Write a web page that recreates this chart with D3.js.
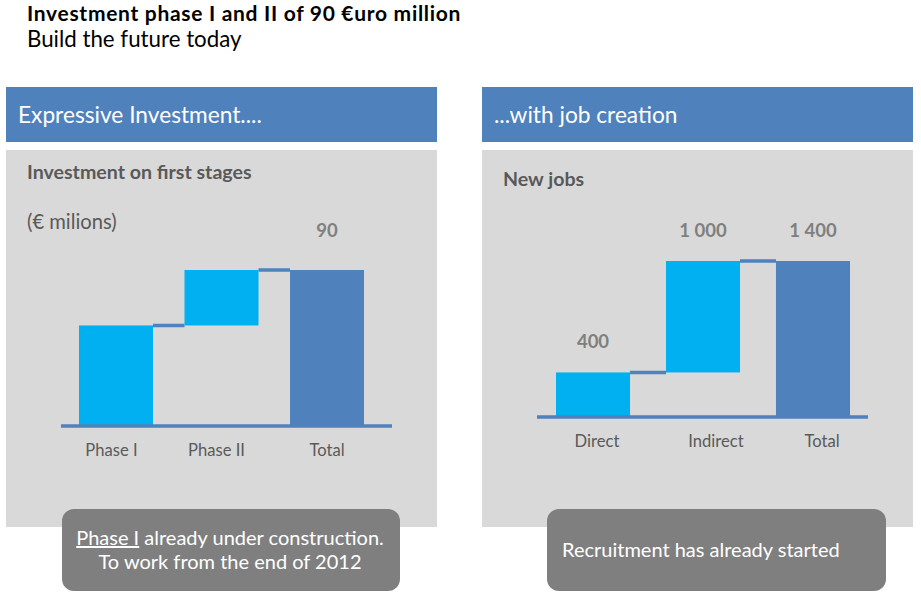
<!DOCTYPE html>
<html><head><meta charset="utf-8">
<script src="https://cdn.jsdelivr.net/npm/d3@7"></script>
<style>
html,body{margin:0;padding:0;background:#fff;}
svg text{font-family:Lato,"Open Sans",sans-serif;}
</style></head>
<body><svg id="c" width="921" height="596"></svg>
<script>
// ---- data ----
const investCategories = ["Phase I", "Phase II", "Total"];
const investValues = [58, 32];          // € millions, steps
const investTotal = 90;
const jobsCategories = ["Direct", "Indirect", "Total"];
const jobsValues = [400, 1000];
const jobsTotal = 1400;
const investLabels = ["", "", "90"];
const jobsLabels = ["400", "1 000", "1 400"];

const svg = d3.select("#c");
const BLUE = "#4F81BD", LIGHT = "#00B0F0", GRAY = "#D9D9D9", DARK = "#595959", BOX = "#7F7F7F";

// title
svg.append("text").attr("x", 27).attr("y", 21).attr("font-size", 21).attr("letter-spacing", 0.7)
  .attr("font-weight", "bold").attr("fill", "#000")
  .text("Investment phase I and II of 90 €uro million");
svg.append("text").attr("x", 27).attr("y", 47).attr("font-size", 22.3).attr("fill", "#000")
  .text("Build the future today");

function panel(x, header, subtitle, subY, unit) {
  svg.append("rect").attr("x", x).attr("y", 87).attr("width", 431).attr("height", 55).attr("fill", BLUE);
  svg.append("text").attr("x", x + 12).attr("y", 123).attr("font-size", 22.7).attr("fill", "#fff").text(header);
  svg.append("rect").attr("x", x).attr("y", 150).attr("width", 431).attr("height", 377).attr("fill", GRAY);
  svg.append("text").attr("x", x + 21).attr("y", subY).attr("font-size", 19.6).attr("font-weight", "bold").attr("fill", DARK).text(subtitle);
  if (unit) svg.append("text").attr("x", x + 21).attr("y", 229).attr("font-size", 20.2).attr("fill", DARK).text(unit);
}
panel(6, "Expressive Investment....", "Investment on first stages", 179, "(€ milions)");
panel(482, "...with job creation", "New jobs", 186, null);

function waterfall(cfg) {
  const steps = cfg.values;
  const rows = [];
  let run = 0;
  steps.forEach((v, i) => { rows.push({cat: cfg.cats[i], y0: run, y1: run + v, total: false, label: cfg.labels[i]}); run += v; });
  rows.push({cat: cfg.cats[steps.length], y0: 0, y1: cfg.total, total: true, label: cfg.labels[steps.length]});

  const x = d3.scaleBand().domain(cfg.cats).range(cfg.xr).paddingInner(cfg.pad).paddingOuter(0);
  const y = d3.scaleLinear().domain([0, cfg.total]).range(cfg.yr);
  const g = svg.append("g");

  // connectors
  for (let i = 0; i < rows.length - 1; i++) {
    const lv = rows[i].y1;
    g.append("line").attr("x1", x(rows[i].cat) + x.bandwidth()).attr("x2", x(rows[i + 1].cat))
      .attr("y1", y(lv)).attr("y2", y(lv)).attr("stroke", BLUE).attr("stroke-width", 3.5);
  }
  g.selectAll("rect.bar").data(rows).join("rect").attr("class", "bar")
    .attr("x", d => x(d.cat)).attr("width", x.bandwidth())
    .attr("y", d => y(d.y1)).attr("height", d => y(d.y0) - y(d.y1))
    .attr("fill", d => d.total ? BLUE : LIGHT);
  // axis line
  g.append("line").attr("x1", cfg.axis[0]).attr("x2", cfg.axis[1]).attr("y1", y(0)).attr("y2", y(0))
    .attr("stroke", BLUE).attr("stroke-width", 3.5);
  // category labels
  g.selectAll("text.cat").data(rows).join("text").attr("class", "cat")
    .attr("x", (d, i) => x(d.cat) + x.bandwidth() / 2 + cfg.labShift[i]).attr("y", y(0) + cfg.catOff)
    .attr("text-anchor", "middle").attr("font-size", 16.6).attr("fill", DARK).text(d => d.cat);
  // value labels
  g.selectAll("text.val").data(rows.filter(d => d.label)).join("text").attr("class", "val")
    .attr("x", d => x(d.cat) + x.bandwidth() / 2).attr("y", d => y(d.y1) - cfg.valOff)
    .attr("text-anchor", "middle").attr("font-size", 18.5).attr("font-weight", "bold").attr("fill", "#7F7F7F")
    .text(d => d.label);
}

waterfall({cats: investCategories, values: investValues, total: investTotal, labels: investLabels,
  xr: [79, 364], pad: 0.2986, yr: [426, 270], axis: [61, 392], catOff: 30, valOff: 33, labShift: [-4.5, -5, 0]});
waterfall({cats: jobsCategories, values: jobsValues, total: jobsTotal, labels: jobsLabels,
  xr: [556, 850], pad: 0.327, yr: [417, 261], axis: [537, 868], catOff: 30, valOff: 24, labShift: [4, 13, 9]});

// bottom boxes
svg.append("rect").attr("x", 62).attr("y", 509).attr("width", 338).attr("height", 82).attr("rx", 12).attr("fill", BOX);
const t1 = svg.append("text").attr("x", 230).attr("y", 545).attr("text-anchor", "middle").attr("font-size", 20).attr("fill", "#fff");
t1.append("tspan").attr("text-decoration", "underline").text("Phase I");
t1.append("tspan").text(" already under construction.");
svg.append("text").attr("x", 230).attr("y", 569).attr("text-anchor", "middle").attr("font-size", 20).attr("fill", "#fff")
  .text("To work from the end of 2012");
svg.append("rect").attr("x", 547).attr("y", 509).attr("width", 339).attr("height", 82).attr("rx", 12).attr("fill", BOX);
svg.append("text").attr("x", 562).attr("y", 557).attr("font-size", 20).attr("fill", "#fff").text("Recruitment has already started");
</script></body></html>
